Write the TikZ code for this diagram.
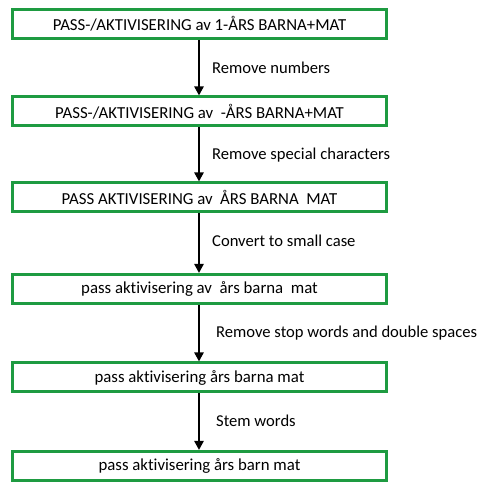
\documentclass[tikz,border=0pt]{standalone}
\usepackage{fontspec}
\setmainfont{Carlito}[Ligatures=NoCommon]
\usetikzlibrary{arrows.meta}
\definecolor{boxgreen}{RGB}{30,155,65}
\tikzset{
	stagebox/.style={draw=boxgreen, line width=3pt, fill=white, minimum width=374pt, minimum height=29pt, inner sep=0pt, font=\fontsize{16.8}{18}\selectfont},
	steparrow/.style={line width=2.6pt, -{Triangle[length=9pt, width=9pt]}},
	steplabel/.style={anchor=west, inner sep=0pt, font=\fontsize{16.6}{18}\selectfont}
}

\begin{document}
\begin{tikzpicture}[x=1pt, y=1pt]
		%%%%% START %%%%%
		
		\useasboundingbox (0, 0) rectangle (480, 483);
		
		\node[stagebox] (s1) at (199.5, 459) {PASS-/AKTIVISERING av 1-ÅRS BARNA+MAT};
		\node[stagebox] (s2) at (199.5, 371.5) {PASS-/AKTIVISERING av\ \ -ÅRS BARNA+MAT};
		\node[stagebox] (s3) at (199.5, 285.5) {PASS AKTIVISERING av\ \ ÅRS BARNA\ \ MAT};
		\node[stagebox] (s4) at (199.5, 194) {pass aktivisering av\ \ års barna\ \ mat};
		\node[stagebox] (s5) at (199.5, 105.5) {pass aktivisering års barna mat};
		\node[stagebox] (s6) at (199.5, 17) {pass aktivisering års barn mat};
		
		\draw[steparrow] (s1.south -| 199, 0) -- (s2.north -| 199, 0);
		\draw[steparrow] (s2.south -| 199, 0) -- (s3.north -| 199, 0);
		\draw[steparrow] (s3.south -| 199, 0) -- (s4.north -| 199, 0);
		\draw[steparrow] (s4.south -| 199, 0) -- (s5.north -| 199, 0);
		\draw[steparrow] (s5.south -| 199, 0) -- (s6.north -| 199, 0);
		
		\node[steplabel] (l1) at (212, 415) {Remove numbers};
		\node[steplabel] (l2) at (212, 328) {Remove special characters};
		\node[steplabel] (l3) at (212, 242) {Convert to small case};
		\node[steplabel] (l4) at (216, 150) {Remove stop words and double spaces};
		\node[steplabel] (l5) at (216, 62) {Stem words};
		
		%%%%% END %%%%%
	\end{tikzpicture}
\end{document}
